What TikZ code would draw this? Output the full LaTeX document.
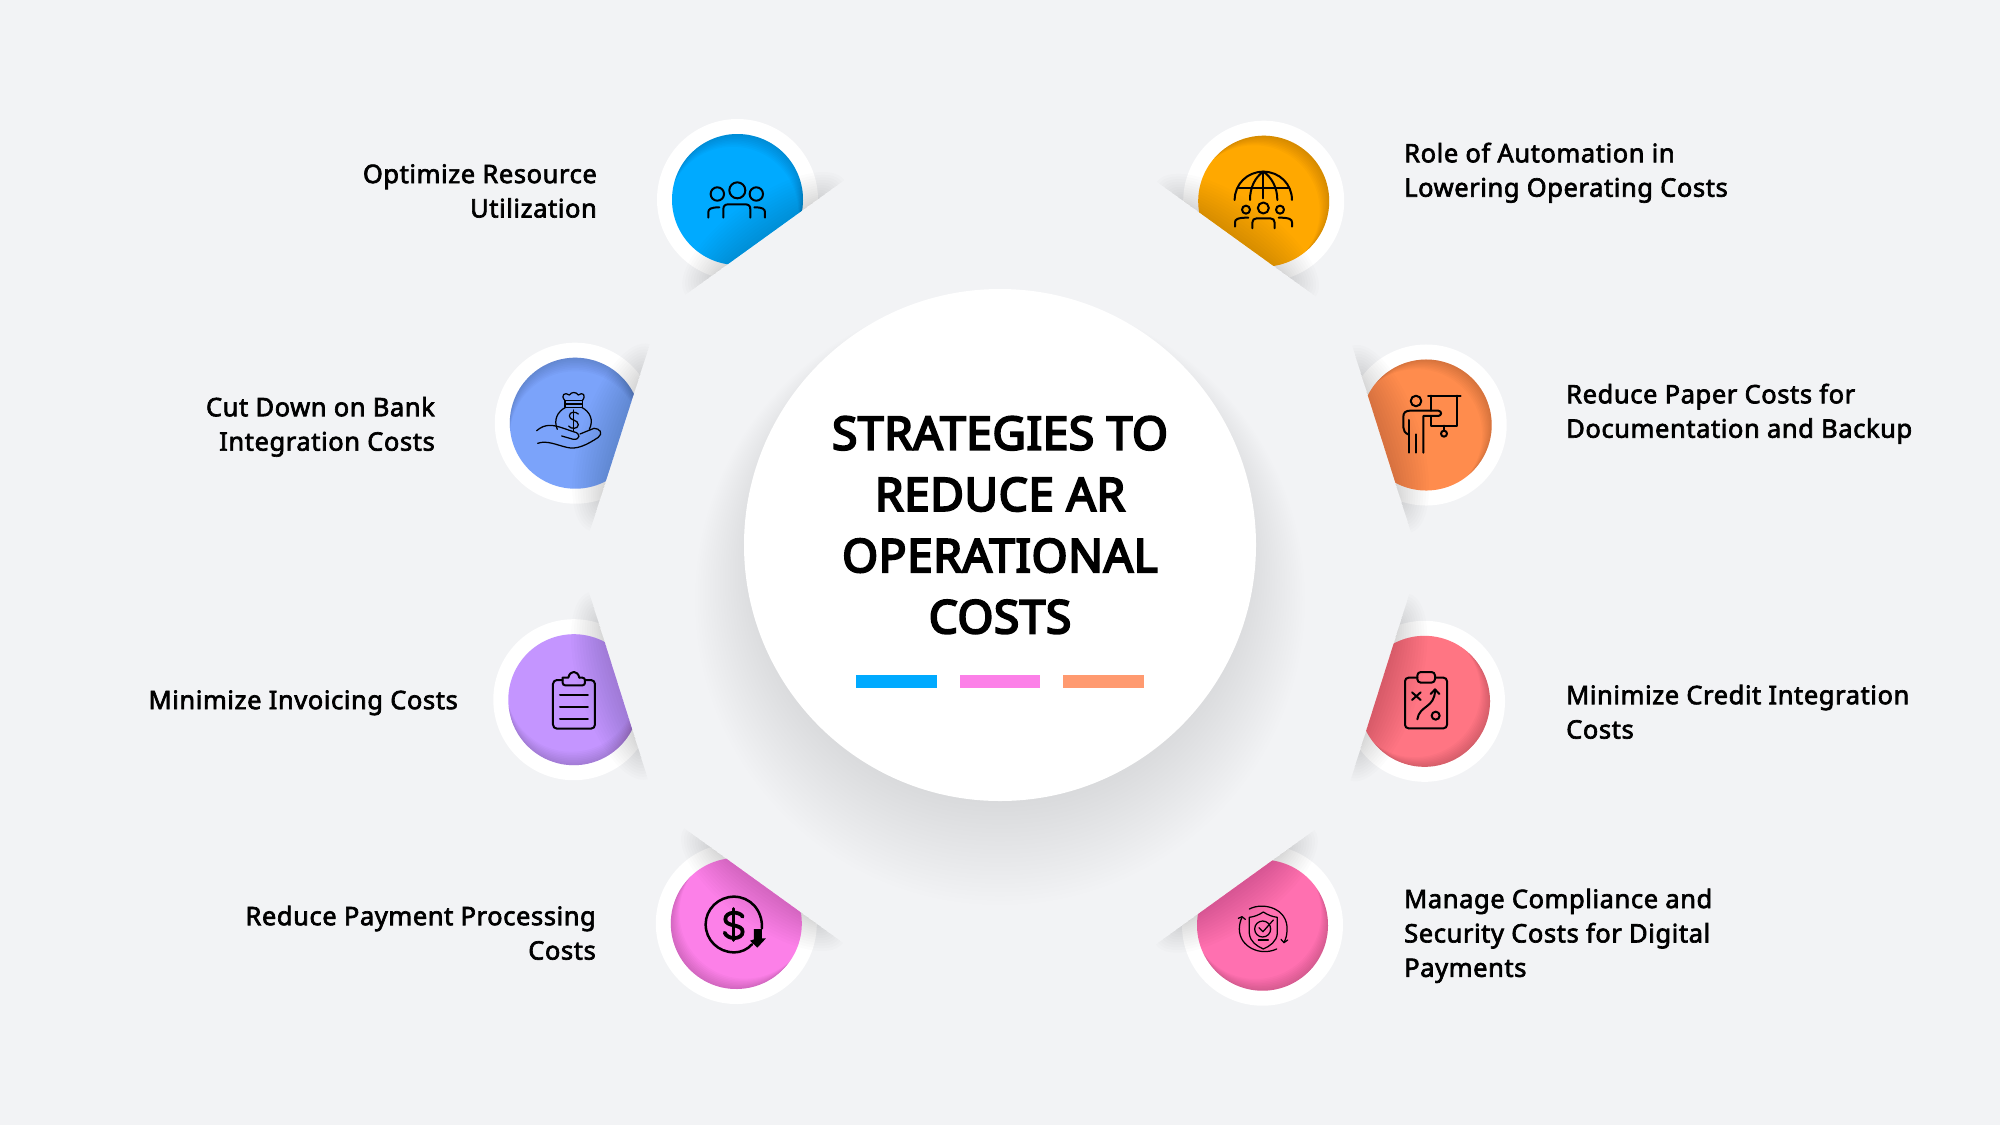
\documentclass[tikz,border=0pt]{standalone}
\usepackage{fontspec}
\setmainfont{Noto Sans}
\newfontfamily\labfont{Noto Sans}[FakeBold=2.6,LetterSpace=2.3]
\newfontfamily\ttlfont{Noto Sans}[FakeBold=4.5,LetterSpace=1.3]
\definecolor{pagebg}{HTML}{F2F3F5}
\definecolor{cblue}{HTML}{00AAFF}
\definecolor{cperi}{HTML}{7BA3FA}
\definecolor{cpurp}{HTML}{C495FF}
\definecolor{cmag}{HTML}{FC80E8}
\definecolor{cgold}{HTML}{FFA800}
\definecolor{corange}{HTML}{FF8C4D}
\definecolor{cred}{HTML}{FF7583}
\definecolor{cpink}{HTML}{FF70B0}
\definecolor{barorange}{HTML}{FF9A70}
\tikzset{
  lab/.style={font=\fontsize{25.5}{34.4}\selectfont\labfont,text=black,inner sep=0pt},
  labr/.style={lab,align=right,anchor=east},
  labl/.style={lab,align=left,anchor=west},
  ttl/.style={font=\fontsize{46}{61.2}\selectfont\ttlfont,text=black,align=center,inner sep=0pt},
  ico/.style={line width=2pt,line cap=round,line join=round,draw=black},
  icothin/.style={line width=1.25pt,line cap=round,line join=round,draw=black},
}
% #1 name, #2 cx, #3 cy, #4 angle (clockwise, towards the cut), #5 colour, #6 direction of the inner edge shadow (canvas degrees)
\newcommand{\badge}[6]{%
  \begin{scope}[shift={(#2,#3)},rotate=-#4]
    \begin{scope}
      \clip (46.8,-130) rectangle (-130,130);
      \fill[white] (0,0) circle[radius=80.5];
      \coordinate (#1) at (0,0);
      \fill[#5] (0,0) circle[radius=65.5];
      \begin{scope}
        \clip (0,0) circle[radius=65.5];
        \begin{scope}[rotate=#4]
          \foreach \k in {1,...,8}{
            \fill[black,opacity=0.018,even odd rule] (0,0) circle[radius=90]
              ([shift={(#6+180:1.7*\k pt)}]0,0) circle[radius=65.5];
          }
        \end{scope}
      \end{scope}
      \foreach \w in {3,6,...,39}{
        \fill[black,opacity=0.0125] (46.8,0) ellipse[x radius=\w,y radius={98-(39-\w)*1.0}];
      }
    \end{scope}
  \end{scope}}
\begin{document}
\begin{tikzpicture}[x=1pt,y=-1pt]
\useasboundingbox (0,0) rectangle (2000,1125);
\fill[pagebg] (0,0) rectangle (2000,1125);
% central shadow
\foreach \t in {1,...,26}{
  \fill[black,opacity=0.0042] (1000,{555+45*\t/26}) circle[radius={240+65*\t/26}];
}
\node[circle,fill=white,minimum size=512pt,inner sep=0pt] (hub) at (1000,545) {};
\node[ttl] (title) at (1000,525) {STRATEGIES TO\\REDUCE AR\\OPERATIONAL\\COSTS};
\fill[cblue] (856,675) rectangle (937,688);
\fill[cmag] (959.5,675) rectangle (1040,688);
\fill[barorange] (1063,675) rectangle (1143.5,688);

\badge{b1}{737.5}{199.5}{54.2}{cblue}{70}
\badge{b2}{575.3}{423.2}{17.8}{cperi}{90}
\badge{b3}{573.8}{699.7}{-17.5}{cpurp}{-80}
\badge{b4}{736.3}{923.5}{-54.2}{cmag}{-130}
\badge{b5}{1263.7}{201.2}{125.8}{cgold}{45}
\badge{b6}{1426.2}{425}{162.5}{corange}{45}
\badge{b7}{1424.5}{701.3}{197.5}{cred}{-45}
\badge{b8}{1262.5}{925.2}{234.2}{cpink}{-60}

% icon 1: people
\begin{scope}[shift={(640,100)},x=0.3333pt,y=-0.3333pt,ico]
  \draw (232,282) circle[radius=6.7pt];
  \draw (292,271) circle[radius=8pt];
  \draw (349,282) circle[radius=6.7pt];
  \draw (250,353) -- (250,328) .. controls (250,318) and (255,313) .. (265,313) -- (316,313) .. controls (326,313) and (331,318) .. (331,328) -- (331,353);
  \draw (205,353) -- (205,337) .. controls (205,327) and (212,322) .. (238,322);
  \draw (375,353) -- (375,337) .. controls (375,327) and (368,322) .. (343,322);
\end{scope}
% icon 2: money bag on a hand
\begin{scope}[shift={(470,330)},x=0.3333pt,y=-0.3333pt,icothin]
  \draw (287,232) .. controls (262,245) and (250,270) .. (262,298);
  \draw (335,232) .. controls (360,245) and (372,270) .. (358,298);
  \draw (285,212) rectangle (337,232);
  \draw (285,222) -- (337,222);
  \draw (285,212) .. controls (270,195) and (285,185) .. (298,195) .. controls (305,185) and (318,185) .. (325,195) .. controls (338,185) and (350,195) .. (337,212);
  \draw (325,252) .. controls (318,244) and (298,244) .. (298,258) .. controls (298,272) and (325,268) .. (325,284) .. controls (325,298) and (302,298) .. (296,288);
  \draw (311,240) -- (311,302);
  \draw (200,302) .. controls (225,280) and (250,285) .. (275,293) -- (310,305) .. controls (335,310) and (330,330) .. (310,328) -- (275,318);
  \draw (330,312) -- (372,295) .. controls (390,295) and (400,310) .. (385,322) .. controls (350,345) and (320,360) .. (290,352) .. controls (260,345) and (230,330) .. (203,340);
\end{scope}
% icon 3: clipboard list
\begin{scope}[shift={(470,610)},x=0.3333pt,y=-0.3333pt,ico]
  \draw[rounded corners=4pt] (278,210) -- (249,210) -- (249,356) -- (375,356) -- (375,210) -- (345,210);
  \draw[rounded corners=2.5pt] (278,203) -- (278,226) -- (345,226) -- (345,203) -- (328,203);
  \draw (278,203) -- (295,203) .. controls (300,180) and (323,180) .. (328,203);
  \draw (270,254) -- (354,254);
  \draw (270,290) -- (354,290);
  \draw (270,327) -- (354,327);
\end{scope}
% icon 4: dollar with down arrow
\begin{scope}[shift={(640,830)},x=0.3333pt,y=-0.3333pt,ico]
  \draw[line width=2.5pt] (366,295) .. controls (368,240) and (330,200) .. (282,200) .. controls (235,200) and (197,238) .. (197,283) .. controls (197,330) and (235,367) .. (282,367) .. controls (305,367) and (322,358) .. (336,343);
  \draw[line width=3.8pt] (308,260) .. controls (300,243) and (256,243) .. (256,268) .. controls (256,292) and (308,280) .. (308,305) .. controls (308,330) and (262,330) .. (254,308);
  \draw[line width=3pt] (282,236) -- (282,331);
  \fill[black,draw=none] (342,297) -- (366,297) -- (366,325) -- (378,325) -- (352,353) -- (330,332) -- (342,328) -- cycle;
\end{scope}
% icon 5: globe and people
\begin{scope}[shift={(1160,100)},x=0.3333pt,y=-0.3333pt,ico]
  \draw (224,300) .. controls (224,252) and (262,215) .. (310,215) .. controls (358,215) and (396,252) .. (396,300);
  \draw (270,300) .. controls (270,262) and (285,232) .. (310,215) .. controls (335,232) and (352,262) .. (352,300);
  \draw (310,215) -- (310,295);
  \draw (236,265) -- (385,265);
  \draw (258,329) circle[radius=4pt];
  \draw (310,324) circle[radius=5.5pt];
  \draw (360,329) circle[radius=4pt];
  \draw (277,385) -- (277,368) .. controls (277,360) and (282,355) .. (290,355) -- (331,355) .. controls (339,355) and (344,360) .. (344,368) -- (344,385);
  \draw (225,380) -- (225,367) .. controls (225,358) and (232,353) .. (265,353);
  \draw (396,380) -- (396,367) .. controls (396,358) and (389,353) .. (356,353);
\end{scope}
% icon 6: presenter
\begin{scope}[shift={(1340,340)},x=0.3333pt,y=-0.3333pt,ico]
  \draw (228,183) circle[radius=5.3pt];
  \draw (264,167) -- (362,167);
  \draw (272,167) -- (272,212);
  \draw (272,228) -- (272,257) -- (352,257) -- (352,167);
  \draw (312,257) -- (312,272);
  \draw (312,281) circle[radius=3pt];
  \draw (207,338) -- (207,240);
  \draw (207,284) .. controls (195,280) and (190,272) .. (190,262) -- (190,230) .. controls (190,218) and (197,212) .. (210,212) -- (295,212) .. controls (306,214) and (306,226) .. (295,228) -- (250,228) -- (250,338);
  \draw (228,283) -- (228,338);
\end{scope}
% icon 7: clipboard with tactic
\begin{scope}[shift={(1340,610)},x=0.3333pt,y=-0.3333pt,ico]
  \draw[rounded corners=3.5pt] (232,203) -- (195,203) -- (195,355) -- (321,355) -- (321,203) -- (285,203);
  \draw[rounded corners=3.5pt] (232,218) -- (232,186) -- (285,186) -- (285,218) -- cycle;
  \draw (216,247) -- (242,270);
  \draw (242,247) -- (216,270);
  \draw (287,317) circle[radius=4pt];
  \draw (232,328) .. controls (238,285) and (285,295) .. (285,240);
  \draw (272,252) -- (285,238) -- (298,252);
\end{scope}
% icon 8: shield with check
\begin{scope}[shift={(1160,830)},x=0.3333pt,y=-0.3333pt,icothin]
  \draw (310,246) .. controls (295,256) and (282,260) .. (268,262) -- (268,310) .. controls (270,335) and (290,348) .. (310,357) .. controls (330,348) and (350,335) .. (352,310) -- (352,262) .. controls (338,260) and (325,256) .. (310,246);
  \draw (308,297) circle[radius=8pt];
  \draw (297,293) -- (309,305) -- (340,270);
  \draw (295,330) -- (325,330);
  \draw (268,237) .. controls (310,215) and (385,235) .. (381,300) .. controls (381,315) and (378,325) .. (372,338);
  \draw (363,328) -- (372,338) -- (383,330);
  \draw (350,357) .. controls (300,380) and (238,350) .. (238,297) .. controls (238,285) and (241,272) .. (246,262);
  \draw (235,265) -- (246,260) -- (256,268);
\end{scope}

% labels
\node[labr] (t1) at (597,191) {Optimize Resource\\Utilization};
\node[labr] (t2) at (435,426.8) {Cut Down on Bank\\Integration Costs};
\node[labr] (t3) at (458,702.8) {Minimize Invoicing Costs};
\node[labr] (t4) at (596,932.8) {Reduce Payment Processing\\Costs};
\node[labl] (t5) at (1404,172.8) {Role of Automation in\\Lowering Operating Costs};
\node[labl] (t6) at (1566,413.8) {Reduce Paper Costs for\\Documentation and Backup};
\node[labl] (t7) at (1566,711.8) {Minimize Credit Integration\\Costs};
\node[labl] (t8) at (1404,935.8) {Manage Compliance and\\Security Costs for Digital\\Payments};
\end{tikzpicture}
\end{document}
